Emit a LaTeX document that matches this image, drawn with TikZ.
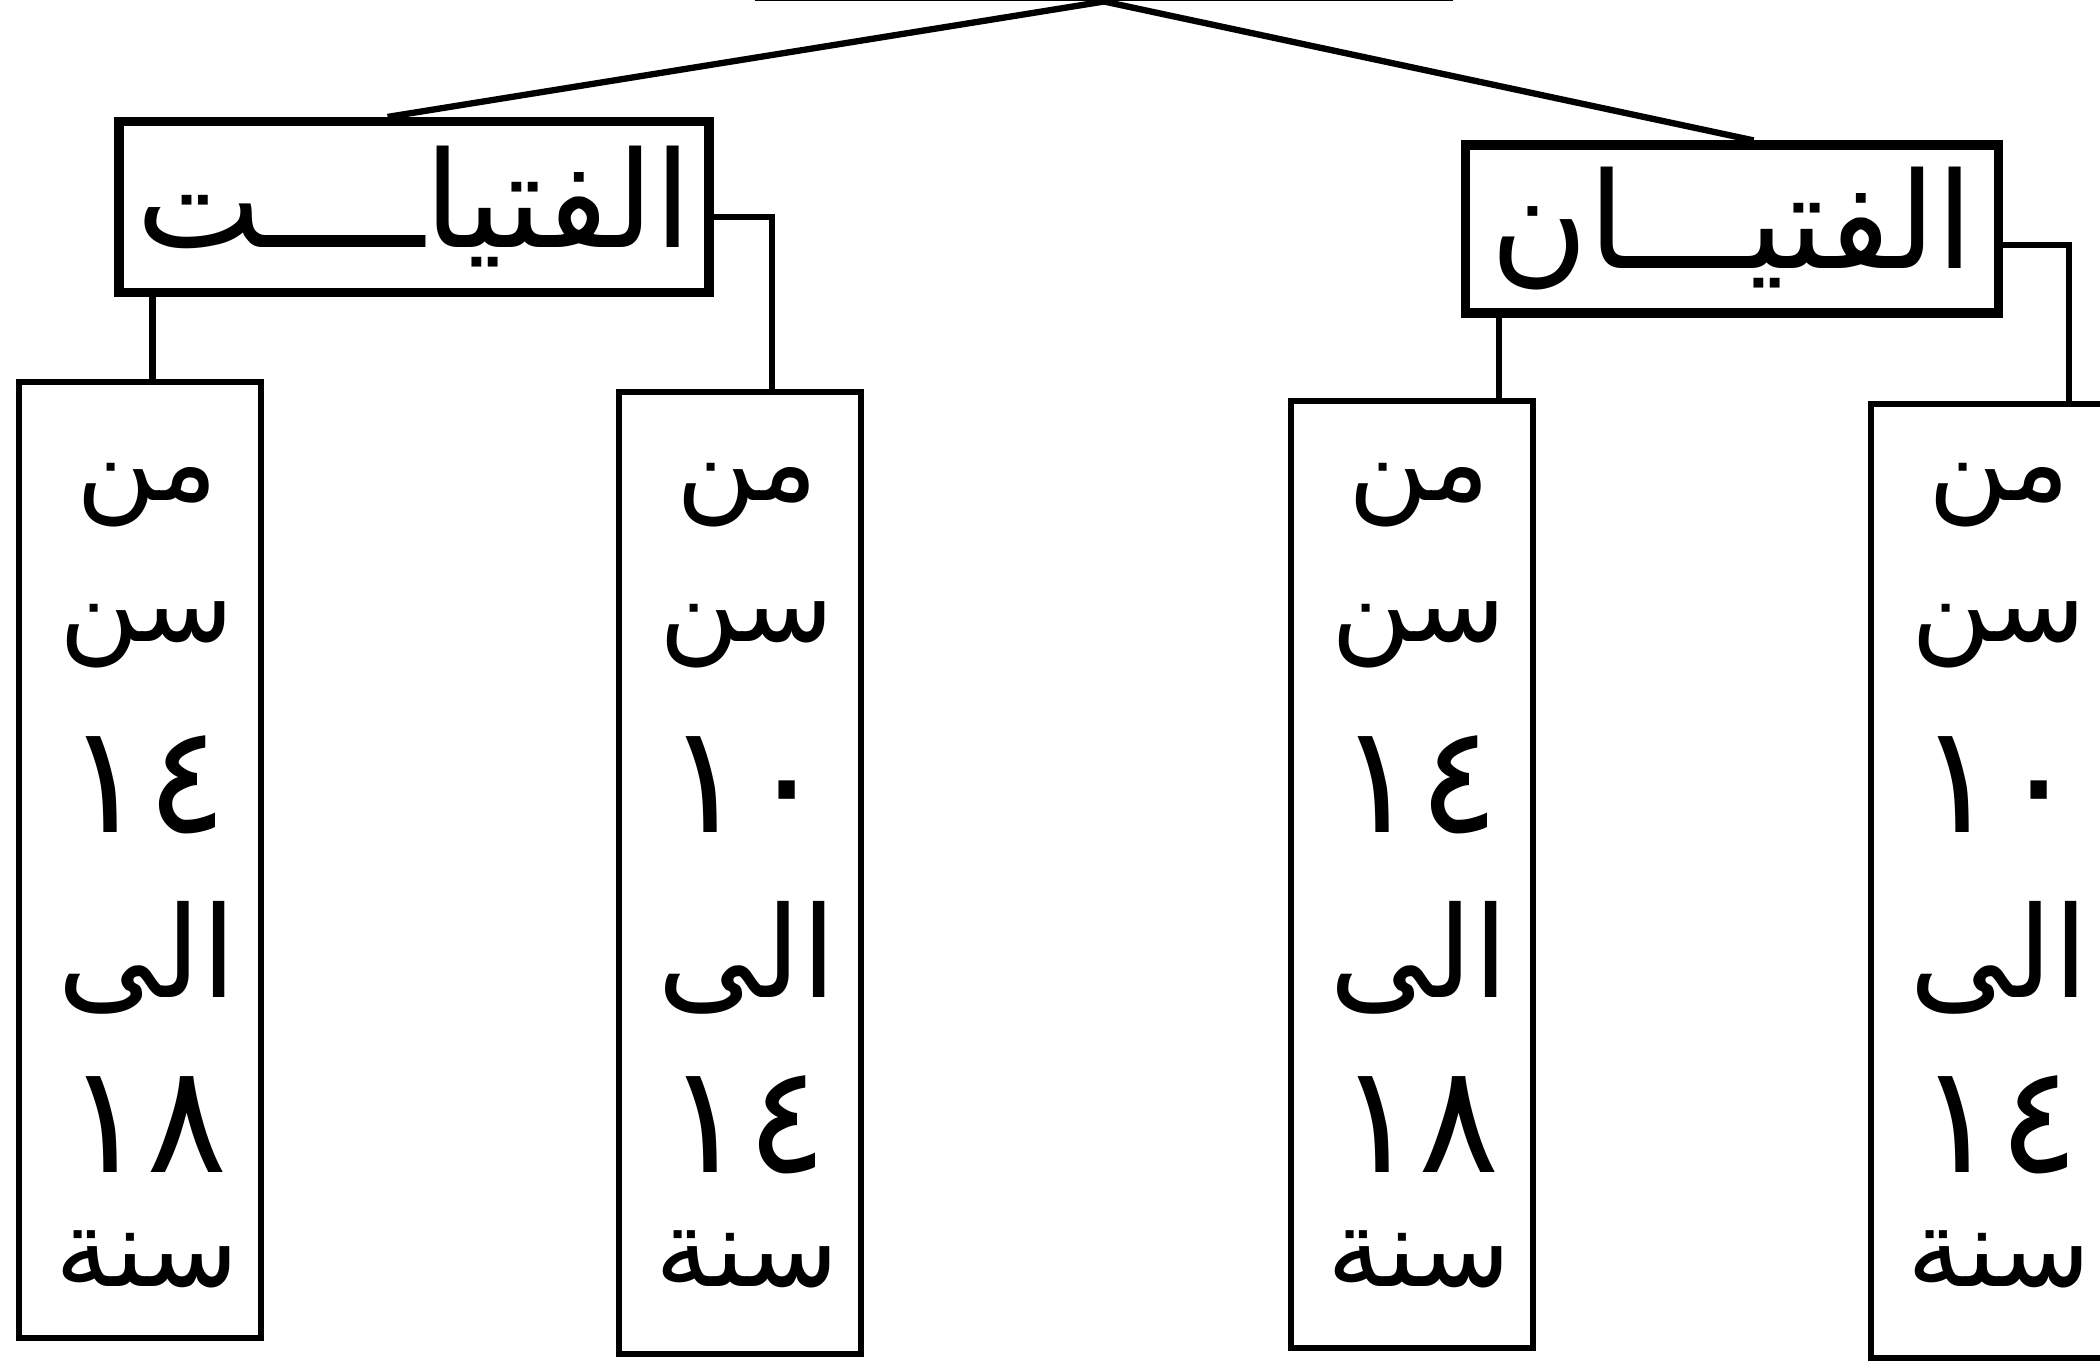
\documentclass[tikz,border=0pt]{standalone}
\usepackage{fontspec}
\newfontfamily\arabicfont[Script=Arabic]{DejaVu Sans}
\TeXXeTstate=1
\usetikzlibrary{positioning,calc}

\begin{document}
\begin{tikzpicture}[
    head/.style={rectangle, draw, line width=2.6pt, inner sep=0pt,
                 font=\arabicfont\fontsize{38}{42}\selectfont},
    agebox/.style={rectangle, draw, line width=1.8pt, inner sep=0pt,
                   minimum width=2.42cm, anchor=north},
    word/.style={font=\arabicfont\fontsize{31}{34}\selectfont, inner sep=0pt},
    num/.style={font=\arabicfont\fontsize{43}{46}\selectfont, inner sep=0pt},
    link/.style={line width=1.8pt},
]
\path[use as bounding box, fill=white] (0,0) rectangle (21,-13.63);

% parent box, cut off by the top edge
\node[rectangle, draw, line width=2pt, minimum width=6.9cm, minimum height=2cm,
      anchor=south] (root) at (11.04,-0.015) {};

% the two groups
\node[head, minimum width=5.9cm, minimum height=1.71cm] (headL) at (4.14,-2.07) {\beginR الفتياــــت\endR};
\node[head, minimum width=5.33cm, minimum height=1.68cm] (headR) at (17.32,-2.29) {\beginR الفتيـــان\endR};

% age columns
\foreach \n/\x/\t/\h/\a/\b in {c1/1.40/3.79/9.56/١٤/١٨, c2/7.40/3.89/9.62/١٠/١٤,
                              c3/14.12/3.98/9.47/١٤/١٨, c4/19.92/4.01/9.54/١٠/١٤}{
  \node[agebox, minimum height=\h cm] (\n) at (\x,-\t) {};
  \node[word] (\n-from) at (\x+0.07,-4.95) {\beginR من\endR};
  \node[word] (\n-age)  at (\x+0.07,-6.35) {\beginR سن\endR};
  \node[num]  (\n-lo)   at (\x+0.07,-7.85) {\a};
  \node[num, font=\arabicfont\fontsize{36}{40}\selectfont] (\n-to) at (\x+0.07,-9.58) {\beginR الى\endR};
  \node[num]  (\n-hi)   at (\x+0.07,-11.25) {\b};
  \node[word] (\n-yr)   at (\x+0.07,-12.59) {\beginR سنة\endR};
}

% connectors
\coordinate (j1) at ($(c1.north west)!0.55!(c1.north east)$);
\coordinate (j2) at ($(c2.north west)!0.63!(c2.north east)$);
\coordinate (j3) at ($(c3.north west)!0.85!(c3.north east)$);
\coordinate (j4) at ($(c4.north west)!0.81!(c4.north east)$);
\draw[link] (root.south) -- ($(headL.north west)!0.456!(headL.north east)$);
\draw[link] (root.south) -- ($(headR.north west)!0.54!(headR.north east)$);
\draw[link] (j1) -- (j1 |- headL.south);
\draw[link] ([yshift=-1mm]headL.east) -| (j2);
\draw[link] (j3) -- (j3 |- headR.south);
\draw[link] ([yshift=-1.6mm]headR.east) -| (j4);

\end{tikzpicture}
\end{document}
